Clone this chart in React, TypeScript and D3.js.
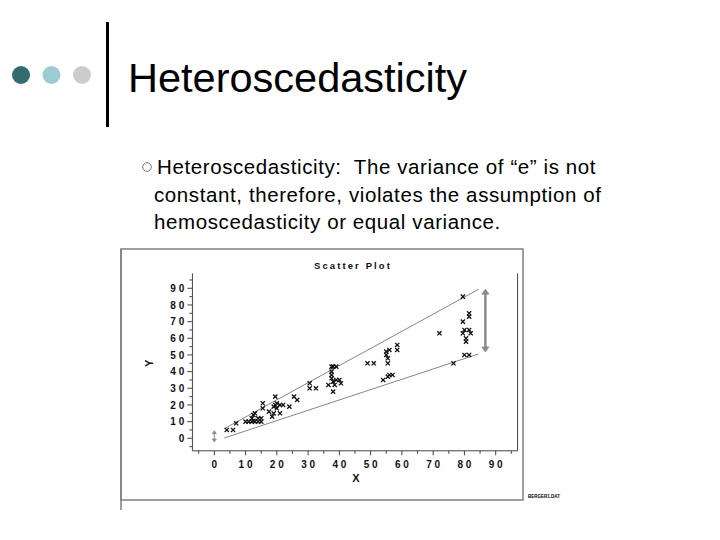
import React from "react"
import * as d3 from "d3"

// scatter data (X, Y)
const pointsX = [4, 6, 7, 10, 11, 12, 12.5, 13, 14, 15, 12, 14, 15, 12.5, 13, 15.5, 15.5, 17.5, 18.5, 19, 19, 19.5, 19.5, 20, 20, 21, 21, 22, 24, 25.5, 26.5, 30.5, 30.5, 32.5, 36.5, 37.5, 38, 39, 37.5, 37.5, 37.5, 38, 39, 40, 38.5, 40.5, 38, 49, 51, 54, 55.5, 56, 57, 55, 55, 56, 55.5, 55.5, 58.5, 58.5, 72, 76.5, 79.5, 79.5, 81.5, 81.5, 80, 81.5, 79.5, 82, 80.5, 80.5, 80, 81.5]
const pointsY = [5, 5, 9, 10, 10, 10, 10.5, 10, 10, 10, 12, 12, 12, 14, 15, 18, 21, 16, 13, 15, 19, 20, 25, 18, 21, 20, 15, 20, 19, 25, 23, 33, 30, 30, 32, 43, 43, 43, 40, 38, 36, 34, 35, 35, 32, 33, 28, 45, 45, 35, 37, 38, 38, 50, 52, 53, 48, 45, 53, 56, 63, 45, 85, 70, 75, 73, 65, 65, 63, 63, 60, 58, 50, 50]

// envelope lines
const upperLine: [number, number][] = [[3.2, 5.8], [84.5, 89.4]]
const lowerLine: [number, number][] = [[3.2, 0.2], [84.5, 50.6]]

const tickLabels = [0, 10, 20, 30, 40, 50, 60, 70, 80, 90]
const minorTicks = d3.range(-5, 100, 5)

const bulletLines = [
  "Heteroscedasticity:  The variance of “e” is not",
  "constant, therefore, violates the assumption of",
  "hemoscedasticity or equal variance.",
]

const dotColors = ["#336b6e", "#9ccdd2", "#cccccc"]

const App: React.FC = () => {
  const x = d3.scaleLinear().domain([0, 90]).range([214.3, 495.7])
  const y = d3.scaleLinear().domain([0, 90]).range([438.3, 288.3])

  const line = d3.line<[number, number]>().x(d => x(d[0])).y(d => y(d[1]))

  const axisLeft = x(-7)
  const axisRight = x(97)
  const axisTop = y(99)
  const axisBottom = y(-7.5)

  const chartFont = "'Liberation Sans', Arial, sans-serif"

  const arrow = (xv: number, y1: number, y2: number, w: number, hw: number, hh: number, key: string) => {
    const cx = x(xv), top = y(y1), bot = y(y2)
    return (
      <g key={key} fill="#8a8a8a" stroke="#8a8a8a">
        <line x1={cx} x2={cx} y1={top + hh} y2={bot - hh} strokeWidth={w} />
        <path d={`M${cx},${top} L${cx - hw},${top + hh} L${cx + hw},${top + hh} Z`} strokeWidth={0.8} />
        <path d={`M${cx},${bot} L${cx - hw},${bot - hh} L${cx + hw},${bot - hh} Z`} strokeWidth={0.8} />
      </g>
    )
  }

  return (
    <svg width={720} height={540} style={{ position: "absolute", left: 0, top: 0, background: "#fff" }}>
      {/* slide header */}
      {dotColors.map((c, i) => (
        <circle key={c} cx={21 + i * 30.5} cy={75} r={9} fill={c} />
      ))}
      <rect x={106} y={22} width={3} height={105} fill="#000" />
      <text x={128} y={92} fontFamily="'Liberation Sans', Arial, sans-serif" fontSize={41.5} fill="#000">
        Heteroscedasticity
      </text>

      {/* bullet */}
      <circle cx={147} cy={167} r={4.3} fill="none" stroke="#777" strokeWidth={1} />
      {bulletLines.map((t, i) => (
        <text key={i} x={i === 0 ? 157 : 154} y={174 + i * 27.5} fontFamily="'Liberation Sans', Arial, sans-serif"
          fontSize={20.5} fill="#000" letterSpacing={0.6} style={{ whiteSpace: "pre" }}>
          {t}
        </text>
      ))}

      {/* picture frame */}
      <rect x={121} y={249} width={402} height={251} fill="none" stroke="#808080" strokeWidth={1.5} />
      <line x1={121} x2={121} y1={249} y2={510} stroke="#808080" strokeWidth={1.5} />
      <text x={528} y={498} fontFamily={chartFont} fontSize={4.5} fontWeight="bold" fill="#000">BERGER1.DAT</text>

      {/* title */}
      <text x={353} y={269} textAnchor="middle" fontFamily={chartFont} fontSize={9.5} fontWeight="bold" letterSpacing={2.1} fill="#111">
        Scatter Plot
      </text>

      {/* axes frame: left, bottom, right */}
      <path d={`M${axisLeft},${axisTop} L${axisLeft},${axisBottom} L${axisRight},${axisBottom} L${axisRight},${axisTop}`}
        fill="none" stroke="#444" strokeWidth={1} />

      {/* y ticks */}
      {minorTicks.map(v => (
        <line key={"yt" + v} x1={axisLeft} x2={axisLeft - (v % 10 === 0 ? 5 : 3)} y1={y(v)} y2={y(v)} stroke="#444" strokeWidth={1} />
      ))}
      {tickLabels.map(v => (
        <text key={"yl" + v} x={187} y={y(v) + 3.6} textAnchor="end" fontFamily={chartFont} fontSize={10} fontWeight="bold"
          letterSpacing={2.8} fill="#111">
          {v}
        </text>
      ))}
      <text transform={`translate(153,${y(45)}) rotate(-90)`} textAnchor="middle" fontFamily={chartFont} fontSize={11}
        fontWeight="bold" fill="#111">Y</text>

      {/* x ticks */}
      {minorTicks.map(v => (
        <line key={"xt" + v} x1={x(v)} x2={x(v)} y1={axisBottom} y2={axisBottom + (v % 10 === 0 ? 4.5 : 3)} stroke="#444" strokeWidth={1} />
      ))}
      {tickLabels.map(v => (
        <text key={"xl" + v} x={x(v) + 1.4} y={468} textAnchor="middle" fontFamily={chartFont} fontSize={10} fontWeight="bold"
          letterSpacing={2.8} fill="#111">
          {v}
        </text>
      ))}
      <text x={x(45) + 1} y={482} textAnchor="middle" fontFamily={chartFont} fontSize={11} fontWeight="bold" fill="#111">X</text>

      {/* envelope lines */}
      <path d={line(upperLine) || ""} fill="none" stroke="#666" strokeWidth={0.8} />
      <path d={line(lowerLine) || ""} fill="none" stroke="#666" strokeWidth={0.8} />

      {/* points as small x marks */}
      <g stroke="#111" strokeWidth={1.3}>
        {pointsX.map((xv, i) => {
          const cx = x(xv), cy = y(pointsY[i]), s = 2.1
          return (
            <path key={i} d={`M${cx - s},${cy - s} L${cx + s},${cy + s} M${cx - s},${cy + s} L${cx + s},${cy - s}`} />
          )
        })}
      </g>

      {/* variance arrows */}
      {arrow(86.7, 89.5, 51.8, 2.5, 3.5, 5, "big")}
      {arrow(0, 4.6, -2.2, 1, 2, 3, "small")}
    </svg>
  )
}

export default App
